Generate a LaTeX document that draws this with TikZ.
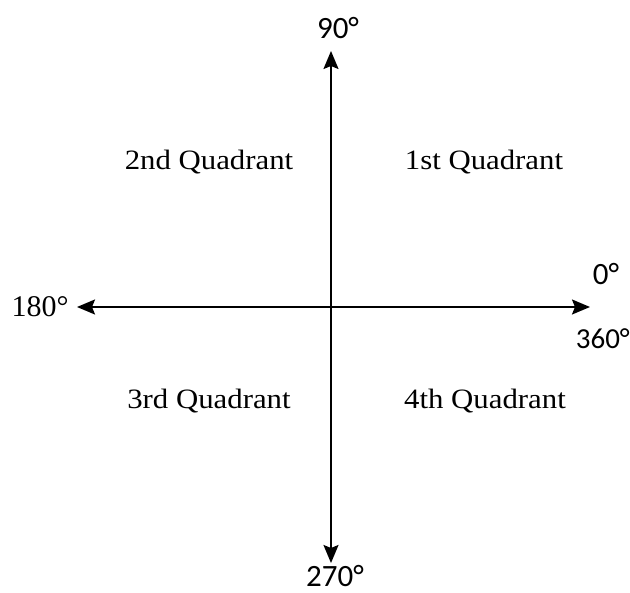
\documentclass[tikz,border=0pt]{standalone}
\usepackage{fontspec}
\usepackage{graphicx}
\setmainfont{Liberation Serif}
\newfontfamily\anglefont{Carlito}
\usetikzlibrary{arrows.meta}

\tikzset{
  axis/.style={line width=1.9pt, -{Stealth[length=18pt, width=15pt, inset=3pt]}},
  quadlabel/.style={font=\fontsize{28}{30}\selectfont, inner sep=0pt},
  deglabel/.style={font=\anglefont\fontsize{31}{34}\selectfont, inner sep=0pt},
}
\newcommand{\wide}[1]{\scalebox{1.1}[1]{#1}}

\begin{document}
\begin{tikzpicture}[x=1pt, y=-1pt]
    \useasboundingbox (0,0) rectangle (630,593);

    % The two axes
    \coordinate (o) at (331,307);
    \coordinate (top) at (331,51);
    \coordinate (bottom) at (331,563);
    \coordinate (left) at (77,307);
    \coordinate (right) at (590,307);
    \draw[axis] (o) -- (top);
    \draw[axis] (o) -- (bottom);
    \draw[axis] (o) -- (left);
    \draw[axis] (o) -- (right);

    % Angles at the ends
    \node[deglabel] (a90) at (338,28) {90°};
    \node[deglabel] (a0) at (606,274) {0°};
    \node[deglabel, font=\anglefont\fontsize{29}{32}\selectfont, anchor=east] (a360) at (630,339) {360°};
    \node[deglabel] (a270) at (335,576) {270°};
    \node[font=\fontsize{30}{32}\selectfont, inner sep=0pt] (a180) at (40,307) {180°};

    % Quadrants
    \node[quadlabel] (q2) at (209,162) {\wide{2nd Quadrant}};
    \node[quadlabel] (q1) at (484,162) {\wide{1st Quadrant}};
    \node[quadlabel] (q3) at (209,401) {\wide{3rd Quadrant}};
    \node[quadlabel] (q4) at (485,401) {\wide{4th Quadrant}};
\end{tikzpicture}
\end{document}
